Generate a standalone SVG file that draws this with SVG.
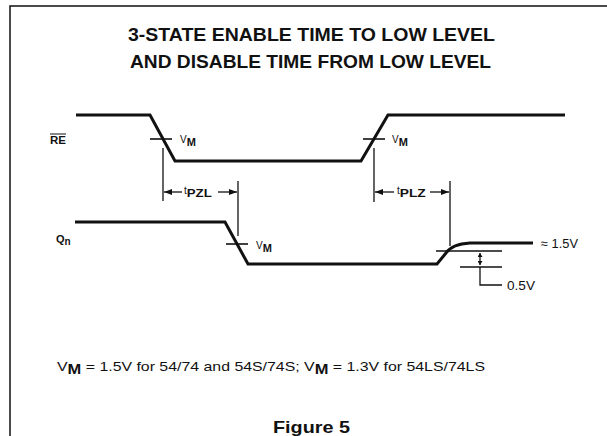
<svg xmlns="http://www.w3.org/2000/svg" width="607" height="436" viewBox="0 0 607 436">
<style>
text{font-family:"Liberation Sans",Arial,sans-serif;fill:#111}
.b{font-weight:bold}
.wave{fill:none;stroke:#111;stroke-width:3;stroke-linejoin:miter}
.thin{fill:none;stroke:#111;stroke-width:1.3}
.tick{fill:none;stroke:#111;stroke-width:1.6}
</style>
<defs>
<marker id="ah" viewBox="0 0 8 6" refX="8" refY="3" markerWidth="8" markerHeight="6" markerUnits="userSpaceOnUse" orient="auto-start-reverse">
<path d="M0,0 L8,3 L0,6 Z" fill="#111"/>
</marker>
<marker id="sh" viewBox="0 0 4 5" refX="4" refY="2.5" markerWidth="4" markerHeight="5" markerUnits="userSpaceOnUse" orient="auto-start-reverse">
<path d="M0,0 L4,2.5 L0,5 Z" fill="#111"/>
</marker>
</defs>
<rect width="607" height="436" fill="#fff"/>
<path d="M10,436 V6 H607" fill="none" stroke="#111" stroke-width="1.5"/>
<g id="title">
<text class="b" x="128" y="41" font-size="18.5" textLength="367" lengthAdjust="spacingAndGlyphs">3-STATE ENABLE TIME TO LOW LEVEL</text>
<text class="b" x="130" y="68" font-size="18.5" textLength="361" lengthAdjust="spacingAndGlyphs">AND DISABLE TIME FROM LOW LEVEL</text>
</g>
<g id="re-signal">
<text class="b" x="50" y="144" font-size="10" textLength="16" lengthAdjust="spacingAndGlyphs">RE</text>
<line x1="50" y1="134" x2="66" y2="134" stroke="#111" stroke-width="1"/>
<path class="wave" d="M76,115 H150 L175,161 H361 L388,115 H565"/>
<line class="tick" x1="150" y1="139" x2="172" y2="139"/>
<line class="tick" x1="363" y1="139" x2="385" y2="139"/>
<text x="180" y="143" font-size="10">V<tspan class="b" font-size="11" dy="3">M</tspan></text>
<text x="392" y="143" font-size="10">V<tspan class="b" font-size="11" dy="3">M</tspan></text>
</g>
<g id="qn-signal">
<text class="b" x="56" y="243" font-size="11">Q<tspan font-size="10" dy="2">n</tspan></text>
<path class="wave" d="M75,222 H225 L248,264 H437 L446,253 Q452,244 470,243 H533"/>
<line class="tick" x1="226" y1="244" x2="248" y2="244"/>
<text x="256" y="249" font-size="10">V<tspan class="b" font-size="11" dy="3">M</tspan></text>
<text x="541" y="248" font-size="12.5" textLength="37" lengthAdjust="spacingAndGlyphs">≈ 1.5V</text>
<text x="507" y="290" font-size="12.5" textLength="28" lengthAdjust="spacingAndGlyphs">0.5V</text>
</g>
<g id="connectors">
<line class="thin" x1="163" y1="148" x2="163" y2="201"/>
<line class="thin" x1="238" y1="181" x2="238" y2="236"/>
<line class="thin" x1="374" y1="148" x2="374" y2="202"/>
<line class="thin" x1="450" y1="181" x2="450" y2="246"/>
<line class="thin" x1="182" y1="192" x2="164" y2="192" marker-end="url(#ah)"/>
<line class="thin" x1="218" y1="192" x2="237" y2="192" marker-end="url(#ah)"/>
<line class="thin" x1="394" y1="192" x2="375" y2="192" marker-end="url(#ah)"/>
<line class="thin" x1="430" y1="192" x2="449" y2="192" marker-end="url(#ah)"/>
<line class="thin" x1="436" y1="251" x2="502" y2="251"/>
<line class="thin" x1="460" y1="267" x2="502" y2="267"/>
<line class="thin" x1="480" y1="253" x2="480" y2="265" marker-start="url(#sh)" marker-end="url(#sh)"/>
<path class="thin" d="M480,267 V285 H502"/>
</g>
<g id="timing-labels">
<text x="184" y="194" font-size="10">t<tspan class="b" font-size="11" dy="3" textLength="25" lengthAdjust="spacingAndGlyphs">PZL</tspan></text>
<text x="397" y="194" font-size="10">t<tspan class="b" font-size="11" dy="3" textLength="26" lengthAdjust="spacingAndGlyphs">PLZ</tspan></text>
</g>
<g id="notes">
<text x="57" y="371" font-size="13.5" textLength="428" lengthAdjust="spacingAndGlyphs">V<tspan class="b" font-size="14" dy="3">M</tspan><tspan dy="-3"> = 1.5V for 54/74 and 54S/74S; V</tspan><tspan class="b" font-size="14" dy="3">M</tspan><tspan dy="-3"> = 1.3V for 54LS/74LS</tspan></text>
<text class="b" x="273" y="433" font-size="17" textLength="77" lengthAdjust="spacingAndGlyphs">Figure 5</text>
</g>
</svg>
